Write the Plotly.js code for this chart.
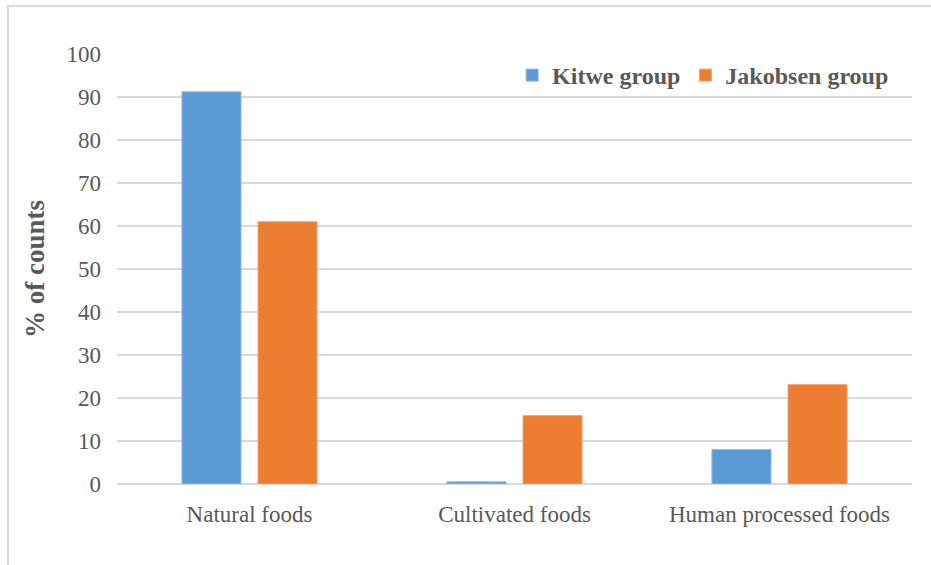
<!DOCTYPE html>
<html>
<head>
<meta charset="utf-8">
<script src="https://cdn.plot.ly/plotly-3.0.1.min.js"></script>
<style>
  html, body { margin: 0; padding: 0; background: #fff; }
  #wrap { position: relative; width: 931px; height: 565px; overflow: hidden; }
  #chart { width: 931px; height: 565px; }
  #frame { position: absolute; left: 7px; top: 5px; width: 930px; height: 570px;
           border-left: 2px solid #d9d9d9; border-top: 2px solid #d9d9d9; pointer-events: none; }
</style>
</head>
<body>
<div id="wrap">
  <div id="chart"></div>
  <div id="frame"></div>
</div>
<script>
const categories = ["Natural foods", "Cultivated foods", "Human processed foods"];
const kitweValues = [91.2, 0.5, 8.0];
const jakobsenValues = [61.0, 15.9, 23.1];
const seriesNames = ["Kitwe group", "Jakobsen group"];
const yTickValues = [0, 10, 20, 30, 40, 50, 60, 70, 80, 90, 100];

const textColor = "#595959";
const fontFamily = "'Liberation Serif', 'Times New Roman', serif";

const traces = [
  { type: "bar", name: seriesNames[0], x: categories, y: kitweValues,
    marker: { color: "#5B9BD5", line: { color: "#8db8e3", width: 1 } }, hoverinfo: "skip" },
  { type: "bar", name: seriesNames[1], x: categories, y: jakobsenValues,
    marker: { color: "#ED7D31", line: { color: "#f3a470", width: 1 } }, hoverinfo: "skip" }
];

const layout = {
  width: 931, height: 565,
  margin: { l: 117, r: 19, t: 53.5, b: 80.5 },
  paper_bgcolor: "#ffffff", plot_bgcolor: "#ffffff",
  font: { family: fontFamily, color: textColor, size: 23 },
  barmode: "group",
  bargap: 0.426,
  bargroupgap: 0.224,
  showlegend: true,
  legend: {
    orientation: "h", x: 0.497, xanchor: "left", y: 0.95, yanchor: "middle",
    font: { family: fontFamily, color: textColor, size: 24, weight: "bold" },
    itemgap: 4, bgcolor: "rgba(0,0,0,0)"
  },
  xaxis: {
    type: "category", showgrid: false, zeroline: false, showline: false,
    ticks: "", ticklabelstandoff: 14,
    tickfont: { family: fontFamily, color: textColor, size: 23 }
  },
  yaxis: {
    range: [0, 100], tickvals: yTickValues, ticktext: yTickValues.map(String),
    showgrid: true, gridcolor: "#d9d9d9", gridwidth: 1.5,
    zeroline: true, zerolinecolor: "#d9d9d9", zerolinewidth: 1.5,
    showline: false, ticks: "", ticklabelstandoff: 15,
    tickfont: { family: fontFamily, color: textColor, size: 23 },
    title: { text: "% of counts", standoff: 14,
             font: { family: fontFamily, color: textColor, size: 27, weight: "bold" } }
  }
};

Plotly.newPlot("chart", traces, layout, { staticPlot: true, displayModeBar: false });
</script>
</body>
</html>
